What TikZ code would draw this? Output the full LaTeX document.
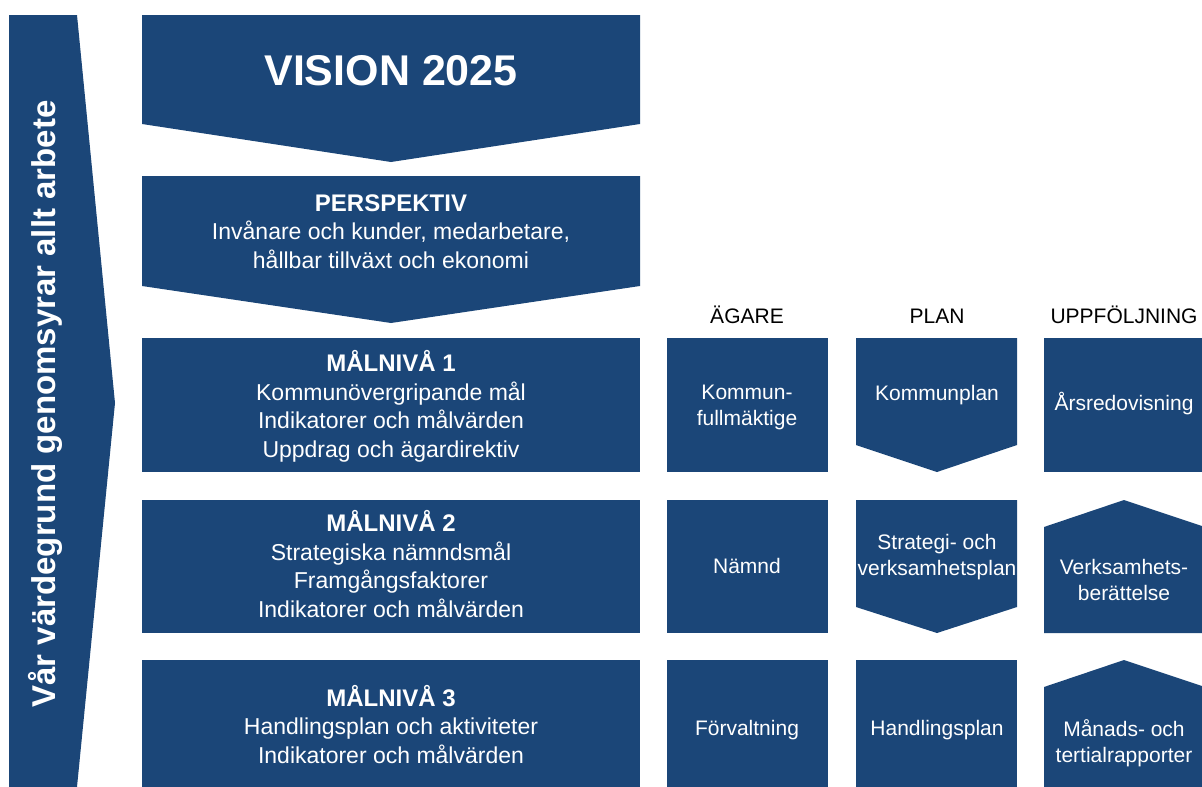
\documentclass[tikz,border=0pt]{standalone}
\usepackage{fontspec}
\setmainfont{Liberation Sans}
\usetikzlibrary{positioning}
\definecolor{visionblue}{RGB}{27,70,120}

\begin{document}
\begin{tikzpicture}[
	x=1pt,
	y=-1pt,
	every block/.style={fill=visionblue},
	main text/.style={text=white, align=center, anchor=base, inner sep=0pt, font=\fontsize{23}{28.4}\selectfont},
	box text/.style={text=white, align=center, anchor=base, inner sep=0pt, font=\fontsize{21}{26}\selectfont},
	column head/.style={text=black, anchor=base, inner sep=0pt, font=\fontsize{21}{25}\selectfont}
]

\clip (0,0) rectangle (1202,787);

\fill [every block] (9,15) -- (77,15) -- (115,403) -- (77,787) -- (9,787) -- cycle;
\node [text=white, rotate=90, font=\bfseries\fontsize{33}{40}\selectfont] (values) at (45,404) {Vår värdegrund genomsyrar allt arbete};

\fill [every block] (142,15) -- (640,15) -- (640,124) -- (391,162) -- (142,124) -- cycle;
\fill [every block] (142,176) -- (640,176) -- (640,286) -- (391,323) -- (142,286) -- cycle;
\foreach \t/\b in {338/472, 500/633, 660/787}
	\fill [every block] (142,\t) rectangle (640,\b);

\node [main text, font=\bfseries\fontsize{43}{50}\selectfont] (vision) at (391,85) {VISION 2025};
\node [main text] (perspective) at (391,268) {{\bfseries\fontsize{24}{28.4}\selectfont PERSPEKTIV}\\Invånare och kunder, medarbetare,\\hållbar tillväxt och ekonomi};
\node [main text] (level-1) at (391,457) {{\bfseries\fontsize{24}{28.4}\selectfont MÅLNIVÅ 1}\\Kommunövergripande mål\\Indikatorer och målvärden\\Uppdrag och ägardirektiv};
\node [main text] (level-2) at (391,617) {{\bfseries\fontsize{24}{28.4}\selectfont MÅLNIVÅ 2}\\Strategiska nämndsmål\\Framgångsfaktorer\\Indikatorer och målvärden};
\node [main text] (level-3) at (391,763) {{\bfseries\fontsize{24}{28.4}\selectfont MÅLNIVÅ 3}\\Handlingsplan och aktiviteter\\Indikatorer och målvärden};

\foreach \l/\x in {ÄGARE/747, PLAN/937, UPPFÖLJNING/1124}
	\node [column head] (head-\x) at (\x,323) {\l};

\foreach \t/\b in {338/472, 500/633, 660/787}
	\fill [every block] (667,\t) rectangle (828,\b);

\fill [every block] (856,338) -- (1017,338) -- (1017,445) -- (937,472) -- (856,445) -- cycle;
\fill [every block] (856,500) -- (1017,500) -- (1017,607) -- (937,633) -- (856,607) -- cycle;
\fill [every block] (856,660) rectangle (1017,787);

\fill [every block] (1044,338) rectangle (1205,472);
\fill [every block] (1044,527) -- (1124,500) -- (1205,527) -- (1205,633) -- (1044,633) -- cycle;
\fill [every block] (1044,687) -- (1124,660) -- (1205,687) -- (1205,787) -- (1044,787) -- cycle;

\foreach \row/\y/\txt in {1/425/{Kommun-\\fullmäktige}, 2/573/{Nämnd}, 3/735/{Förvaltning}}
	\node [box text] (owner-\row) at (747,\y) {\txt};

\foreach \row/\y/\txt in {1/400/{Kommunplan}, 2/575/{Strategi- och\\verksamhetsplan}, 3/735/{Handlingsplan}}
	\node [box text] (plan-\row) at (937,\y) {\txt};

\foreach \row/\y/\txt in {1/410/{Årsredovisning}, 2/600/{Verksamhets-\\berättelse}, 3/762/{Månads- och\\tertialrapporter}}
	\node [box text] (followup-\row) at (1124,\y) {\txt};

\end{tikzpicture}
\end{document}
